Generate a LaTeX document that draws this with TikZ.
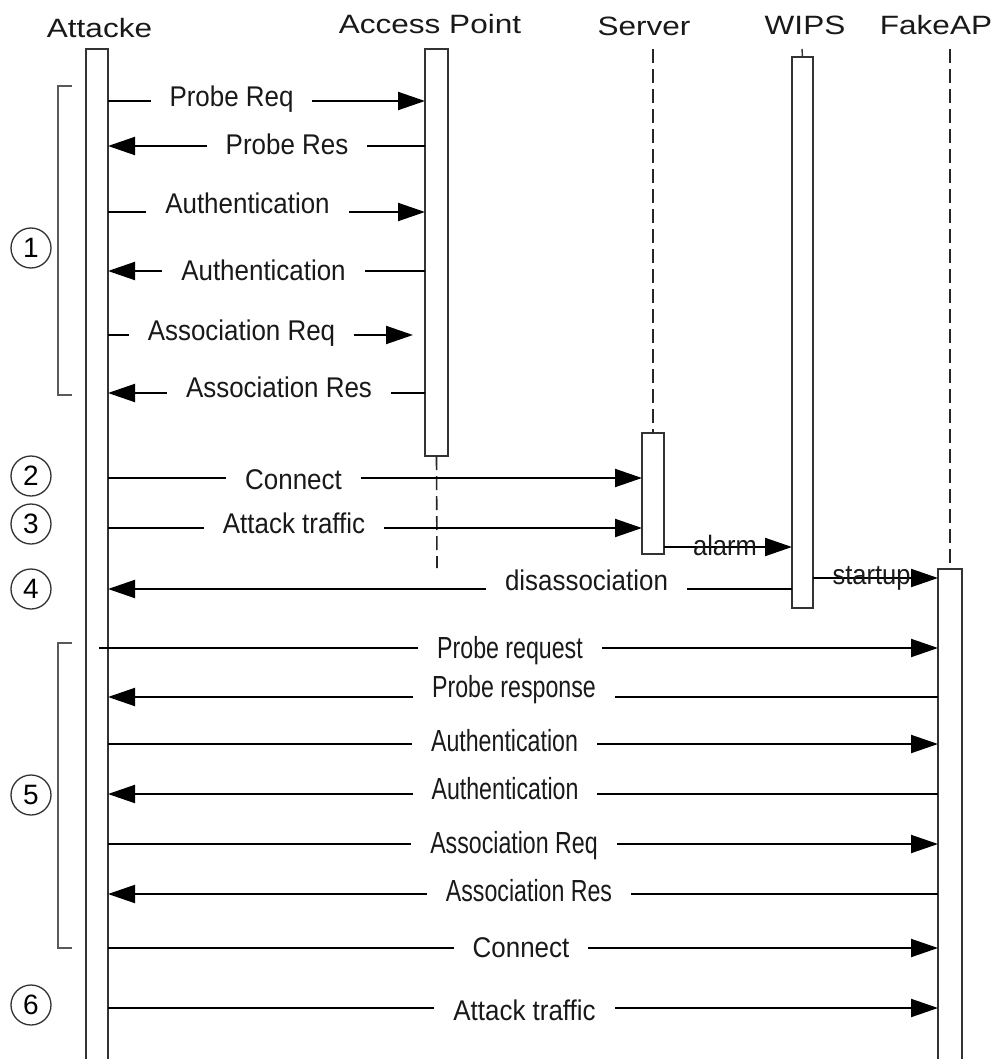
\documentclass[tikz,border=0pt]{standalone}
\usepackage{fontspec}
\setmainfont{Liberation Sans}
\newfontfamily\hdrfont[FakeStretch=1.19]{Liberation Sans}
\newfontfamily\lblfont[FakeStretch=0.91]{Liberation Sans}
\newfontfamily\cndfont[FakeStretch=0.76]{Liberation Sans}
\usetikzlibrary{arrows.meta}
\tikzset{
 bar/.style={draw=black!80, line width=1.4pt, fill=white, rectangle, inner sep=0pt, outer sep=0pt, anchor=north west},
 life/.style={draw=black!85, line width=1.6pt, dash pattern=on 14pt off 6pt},
 msg/.style={draw=black, line width=2pt, -{Triangle[length=27pt,width=18pt]}},
 hdr/.style={font=\hdrfont\fontsize{26.5}{28}\selectfont, text=black!90, text height=19pt, text depth=0pt, inner sep=0pt},
 lbl/.style={font=\lblfont\fontsize{28.5}{30}\selectfont, text=black!90, text height=20.5pt, text depth=0pt, fill=white, inner xsep=19pt, inner ysep=5pt},
 cnd/.style={font=\cndfont\fontsize{30.5}{32}\selectfont, text=black!90, text height=22pt, text depth=0pt, fill=white, inner xsep=19pt, inner ysep=5pt},
 ovl/.style={font=\lblfont\fontsize{28}{30}\selectfont, text=black!90, inner sep=0pt, anchor=base},
 num/.style={circle, draw=black!80, line width=1.3pt, minimum size=40pt, inner sep=0pt, font=\fontsize{28}{30}\selectfont},
 brk/.style={draw=black!65, line width=1.6pt},
}
\begin{document}
\begin{tikzpicture}[x=1pt,y=-1pt]
\useasboundingbox (0,0) rectangle (996,1059);
\clip (0,0) rectangle (996,1059);
\fill[white] (0,0) rectangle (996,1059);

% headers
\node[hdr] (hatt) at (99.5,28) {Attacke};
\node[hdr] (hap) at (430,24) {Access Point};
\node[hdr] (hsrv) at (644,26) {Server};
\node[hdr] (hwips) at (805,25) {WIPS};
\node[hdr] (hfake) at (936,25) {FakeAP};

% lifelines (dashed parts)
\coordinate (aplow) at (437,568);
\coordinate (srvtop) at (653,49);
\coordinate (wipstop) at (802,49);
\coordinate (faketop) at (950,49);

% activation bars
\node[bar, minimum width=22pt, minimum height=1030pt] (att) at (86,49) {};
\node[bar, minimum width=23pt, minimum height=407pt] (ap) at (425,49) {};
\node[bar, minimum width=22pt, minimum height=121pt] (srv) at (642,433) {};
\node[bar, minimum width=21pt, minimum height=551pt] (wips) at (792,57) {};
\node[bar, minimum width=24pt, minimum height=510pt] (fake) at (938,569) {};

\draw[life] (ap.south) -- (aplow);
\draw[life] (srvtop) -- (srv.north);
\draw[black!80, line width=1.4pt] (wipstop) -- (wips.north);
\draw[life] (faketop) -- (fake.north);

% brackets
\draw[brk] (72,86) -| (58,395) -- (72,395);
\draw[brk] (72,643) -| (58,948) -- (72,948);

% circled numbers
\node[num] (c1) at (31,248) {1};
\node[num] (c2) at (31,476) {2};
\node[num] (c3) at (31,524) {3};
\node[num] (c4) at (31,589) {4};
\node[num] (c5) at (31,795) {5};
\node[num] (c6) at (31,1005) {6};

% phase 1 messages
\draw[msg] (att.east |- 0,101) -- (ap.west |- 0,101);
\draw[msg] (ap.west |- 0,146) -- (att.east |- 0,146);
\draw[msg] (att.east |- 0,212) -- (ap.west |- 0,212);
\draw[msg] (ap.west |- 0,271) -- (att.east |- 0,271);
\draw[msg, shorten >=12pt] (att.east |- 0,335) -- (ap.west |- 0,335);
\draw[msg] (ap.west |- 0,393) -- (att.east |- 0,393);
\node[lbl] (l1) at (231.5,96) {Probe Req};
\node[lbl] (l2) at (287,144) {Probe Res};
\node[lbl] (l3) at (247.5,203) {Authentication};
\node[lbl] (l4) at (263.5,270) {Authentication};
\node[lbl] (l5) at (241.5,330) {Association Req};
\node[lbl] (l6) at (279,387) {Association Res};

% phases 2-4
\draw[msg] (att.east |- 0,478) -- (srv.west |- 0,478);
\draw[msg] (att.east |- 0,528) -- (srv.west |- 0,528);
\draw[msg] (srv.east |- 0,547) -- (wips.west |- 0,547);
\draw[msg] (wips.west |- 0,589) -- (att.east |- 0,589);
\draw[msg] (wips.east |- 0,578) -- (fake.west |- 0,578);
\node[lbl] (l7) at (293.5,479) {Connect};
\node[lbl] (l8) at (294,523) {Attack traffic};
\node[ovl] (l9) at (725,555) {alarm};
\node[lbl] (l10) at (586.5,580) {disassociation};
\node[ovl] (l11) at (871.5,584) {startup};

% phase 5 and 6
\draw[msg, shorten <=-9pt] (att.east |- 0,648) -- (fake.west |- 0,648);
\draw[msg] (fake.west |- 0,697) -- (att.east |- 0,697);
\draw[msg] (att.east |- 0,744) -- (fake.west |- 0,744);
\draw[msg] (fake.west |- 0,794) -- (att.east |- 0,794);
\draw[msg] (att.east |- 0,844) -- (fake.west |- 0,844);
\draw[msg] (fake.west |- 0,894) -- (att.east |- 0,894);
\draw[msg] (att.east |- 0,948) -- (fake.west |- 0,948);
\draw[msg] (att.east |- 0,1008) -- (fake.west |- 0,1008);
\node[cnd] (l12) at (510,647) {Probe request};
\node[cnd] (l13) at (514,686) {Probe response};
\node[cnd] (l14) at (504.5,740) {Authentication};
\node[cnd] (l15) at (505,788) {Authentication};
\node[cnd] (l16) at (514,842) {Association Req};
\node[cnd] (l17) at (529,890) {Association Res};
\node[lbl] (l18) at (521,947) {Connect};
\node[lbl] (l19) at (524.5,1010) {Attack traffic};
\end{tikzpicture}
\end{document}
